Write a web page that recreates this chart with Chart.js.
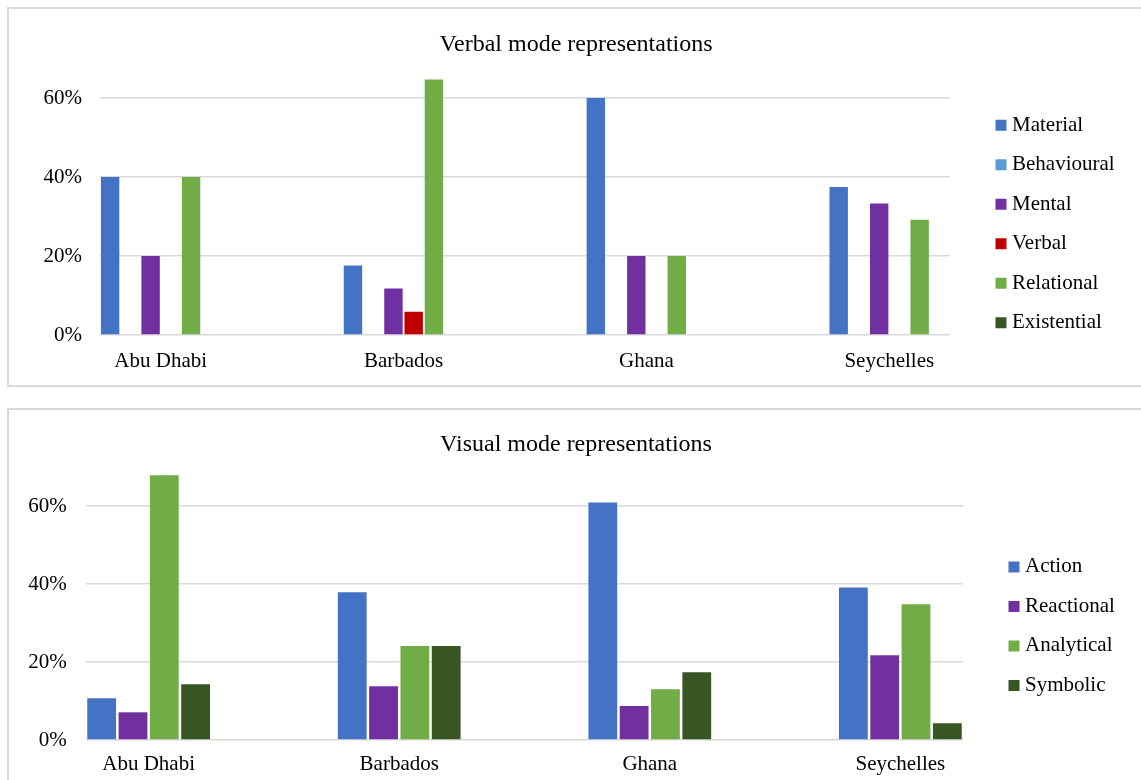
<!DOCTYPE html>
<html>
<head>
<meta charset="utf-8">
<script src="https://cdn.jsdelivr.net/npm/chart.js"></script>
<style>
  html, body { margin: 0; padding: 0; background: #fff; overflow: hidden; width: 1141px; height: 780px; }
  .frame { position: absolute; left: 7px; border: 2px solid #d9d9d9; width: 1134px; background: #fff; }
  #f1 { top: 7px; height: 376px; }
  #f2 { top: 408px; height: 400px; }
  canvas { display: block; }
</style>
</head>
<body>
<div class="frame" id="f1"><canvas id="c1" width="1134" height="380"></canvas></div>
<div class="frame" id="f2"><canvas id="c2" width="1134" height="378"></canvas></div>
<script>
// ---------------- data ----------------
const categories = ['Abu Dhabi', 'Barbados', 'Ghana', 'Seychelles'];
const yTickValues = [0, 20, 40, 60];

// Verbal mode representations (%)
const verbalSeriesNames = ['Material', 'Behavioural', 'Mental', 'Verbal', 'Relational', 'Existential'];
const material    = [40.0, 17.6, 60.0, 37.5];
const behavioural = [0, 0, 0, 0];
const mental      = [20.0, 11.8, 20.0, 33.3];
const verbal      = [0, 5.9, 0, 0];
const relational  = [40.0, 64.7, 20.0, 29.2];
const existential = [0, 0, 0, 0];

// Visual mode representations (%)
const visualSeriesNames = ['Action', 'Reactional', 'Analytical', 'Symbolic'];
const action     = [10.7, 37.9, 60.9, 39.1];
const reactional = [7.1, 13.8, 8.7, 21.7];
const analytical = [67.9, 24.1, 13.0, 34.8];
const symbolic   = [14.3, 24.1, 17.4, 4.3];

// ---------------- styles ----------------
const verbalColors = ['#4472C4', '#5B9BD5', '#7030A0', '#C00000', '#70AD47', '#375623'];
const visualColors = ['#4472C4', '#7030A0', '#70AD47', '#375623'];

Chart.defaults.font.family = "'Liberation Serif', 'Times New Roman', serif";
Chart.defaults.font.size = 21;
Chart.defaults.color = '#000';

// Place legend and title like the original layout (legend a bit off the plot, title centred on the full frame)
const layoutTweak = {
  id: 'layoutTweak',
  afterLayout(chart, args, opts) {
    const lg = chart.legend;
    if (lg) {
      lg.left += opts.dx;
      lg.right += opts.dx + 80;
      lg.width = lg.right - lg.left;
      lg.top += opts.dy;
      lg.bottom += opts.dy;
    }
    const t = chart.titleBlock;
    if (t) {
      t.left = 0;
      t.right = chart.width;
      t.width = chart.width;
    }
  }
};

function makeChart(id, title, names, series, colors, g) {
  const datasets = names.map((n, k) => ({
    label: n,
    data: series[k].map((v, i) => ({ x: i, y: v })),
    backgroundColor: colors[k],
    borderWidth: 0,
    categoryPercentage: 0.5,
    barPercentage: g.barPct
  }));
  return new Chart(document.getElementById(id), {
    type: 'bar',
    data: { datasets },
    plugins: [layoutTweak],
    options: {
      responsive: false,
      animation: false,
      devicePixelRatio: 1,
      layout: { padding: { left: 0, top: 0, right: g.padRight, bottom: g.padBottom } },
      scales: {
        x: {
          type: 'linear',
          offset: false,
          min: -0.25,
          max: 3.25,
          grid: { display: false, drawTicks: false },
          border: { display: false },
          afterBuildTicks: s => { s.ticks = categories.map((c, i) => ({ value: i })); },
          ticks: {
            autoSkip: false, maxRotation: 0, padding: g.xPad,
            callback: v => categories[v]
          }
        },
        y: {
          min: 0,
          max: 70,
          afterFit: s => { s.width = g.yWidth; },
          afterBuildTicks: s => { s.ticks = yTickValues.map(v => ({ value: v })); },
          grid: { color: '#d9d9d9', lineWidth: 1.5, drawTicks: false },
          border: { display: false },
          ticks: { padding: g.yPad, callback: v => v + '%' }
        }
      },
      plugins: {
        title: {
          display: true,
          text: title,
          font: { size: 24, weight: 'normal' },
          color: '#000',
          padding: { top: g.titleTop, bottom: g.titleBottom }
        },
        legend: {
          position: 'right',
          maxWidth: 120,
          labels: {
            usePointStyle: true,
            pointStyle: 'rect',
            boxWidth: 1,
            boxHeight: 11,
            padding: 18.5,
            font: { size: 21 },
            color: '#000'
          }
        },
        layoutTweak: { dx: g.dx, dy: g.dy },
        tooltip: { enabled: false }
      }
    }
  });
}

makeChart('c1', 'Verbal mode representations', verbalSeriesNames,
  [material, behavioural, mental, verbal, relational, existential], verbalColors,
  { barPct: 0.91, padRight: 73, padBottom: 0.8, xPad: 14, yWidth: 91, yPad: 18,
    titleTop: 20.9, titleBottom: -0.2, dx: 32, dy: 25.5 });

makeChart('c2', 'Visual mode representations', visualSeriesNames,
  [action, reactional, analytical, symbolic], visualColors,
  { barPct: 0.92, padRight: 60, padBottom: 0, xPad: 11.4, yWidth: 77, yPad: 19.3,
    titleTop: 20.5, titleBottom: 7.7, dx: 32, dy: 27.2 });
</script>
</body>
</html>
